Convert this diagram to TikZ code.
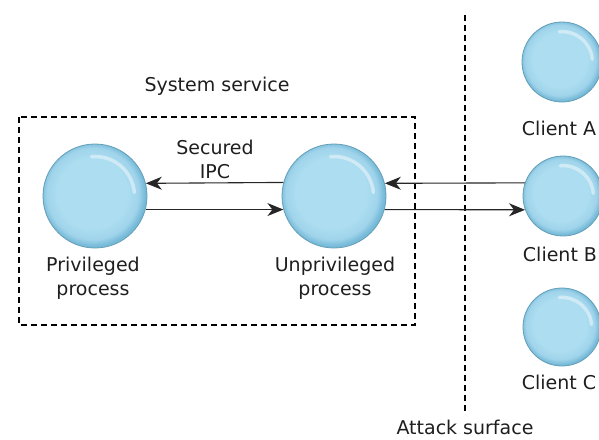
\documentclass[tikz,border=0pt]{standalone}
\usepackage{fontspec}
\setmainfont{DejaVu Sans}
\usetikzlibrary{arrows.meta,calc}
\definecolor{bin}{RGB}{172,221,240}
\definecolor{bmid}{RGB}{160,212,235}
\definecolor{bout}{RGB}{118,186,216}
\definecolor{txt}{RGB}{30,30,30}
\pgfdeclareradialshading{ballshade}{\pgfpoint{-2bp}{2bp}}{color(0bp)=(bin); color(17bp)=(bin); color(22bp)=(bmid); color(25bp)=(bout); color(50bp)=(bout)}
\tikzset{
  ball/.style={circle, inner sep=0pt, minimum size=#1, shading=ballshade, draw=bout!85!black, line width=0.8pt,
    path picture={
      \draw[white, opacity=0.45, line width=3.5pt, line cap=round]
        let \p1=(path picture bounding box.center), \p2=(path picture bounding box.north), \n1={(\y2-\y1)*0.76}
        in ($(\p1)+(95:\n1)$) arc[start angle=95, end angle=5, radius=\n1];
    }},
  lbl/.style={font=\fontsize{19}{23}\selectfont, text=txt, inner sep=0pt, align=center},
  conn/.style={draw=black!85, line width=1.1pt, -{Stealth[length=16pt,width=13pt,inset=5pt]}},
  frame/.style={draw=black, line width=1.6pt, dash pattern=on 6pt off 4pt},
}
\begin{document}
\begin{tikzpicture}[x=1pt,y=1pt]
\useasboundingbox (0,0) rectangle (599,-439);
% dashed system service box
\draw[frame] (19,-117) rectangle (415,-325);
% attack surface line
\coordinate (atop) at (465,-15);
\coordinate (abot) at (465,-412);
\draw[frame] (atop) -- (abot);
% spheres
\node[ball=104pt] (priv) at (95,-196) {};
\node[ball=104pt] (unpriv) at (334,-196) {};
\node[ball=80pt] (ca) at (562,-62) {};
\node[ball=80pt] (cb) at (563,-196) {};
\node[ball=78pt] (cc) at (562,-327) {};
% labels
\node[lbl] (ss) at (217,-86) {System service};
\node[lbl] (sipc) at (215,-159) {Secured\\[1pt]IPC};
\node[lbl] (lpriv) at (93,-278) {Privileged\\[1pt]process};
\node[lbl] (lunpriv) at (335,-278) {Unprivileged\\[1pt]process};
\node[lbl] (la) at (559,-128) {Client A};
\node[lbl] (lb) at (560,-254) {Client B};
\node[lbl] (lc) at (559,-382) {Client C};
\node[lbl] (las) at (465,-427) {Attack surface};
% connectors
\draw[conn] (unpriv.165.52) -- (priv.14.48);
\draw[conn] (priv.-15.62) -- (unpriv.195.62);
\draw[conn] (cb.161.03) -- (unpriv.14.48);
\draw[conn] (unpriv.-15.62) -- (cb.200.49);
\end{tikzpicture}
\end{document}
